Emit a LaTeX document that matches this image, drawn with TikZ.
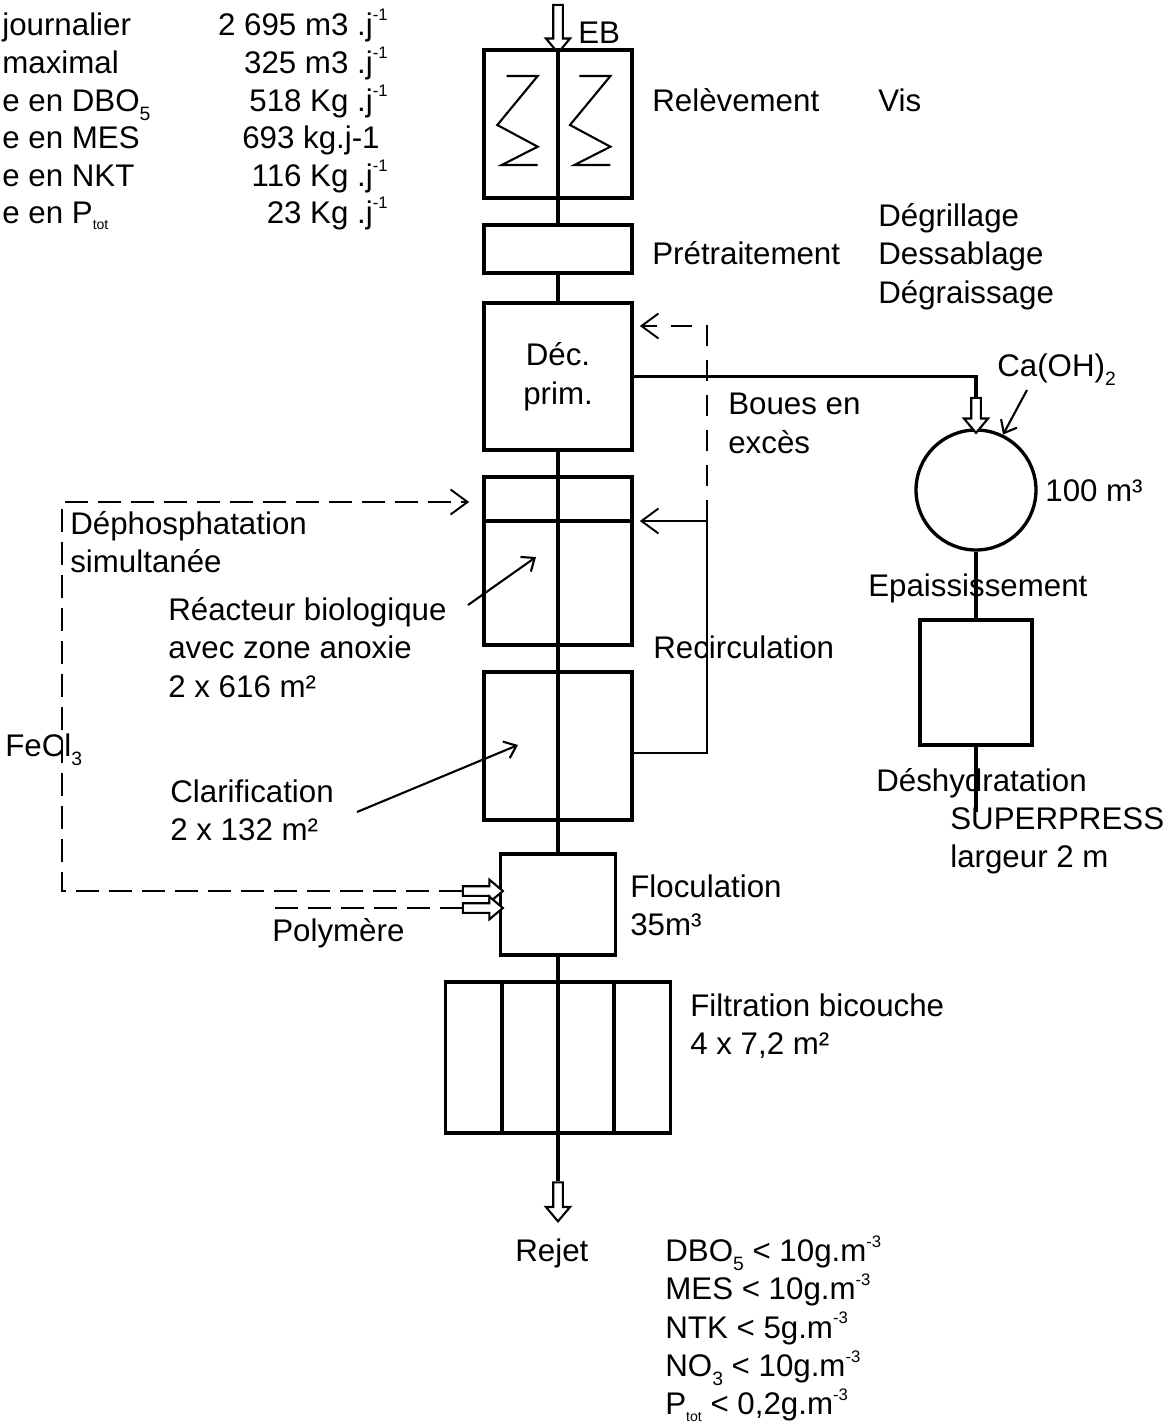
\documentclass[tikz,border=0pt]{standalone}
\usepackage{fontspec}
\setmainfont{Liberation Sans}
\usetikzlibrary{
  arrows.meta,
  positioning,
  shapes.arrows
}
\newcommand{\labfont}{\fontsize{17.8}{21.9}\selectfont}
\newcommand{\lowr}[1]{\raisebox{-0.55ex}{\fontsize{11}{11}\selectfont #1}}
\newcommand{\tot}{\raisebox{-0.4ex}{\fontsize{8}{8}\selectfont tot}}
\newcommand{\upr}[1]{\raisebox{0.85ex}{\fontsize{9.5}{9.5}\selectfont #1}}
\tikzset{
  tank/.style={draw,line width=2.1pt,inner sep=0pt,minimum width=2.96cm},
  wall/.style={line width=2.1pt},
  flow/.style={line width=1.8pt},
  screw/.style={line width=1.2pt},
  dosing/.style={line width=1.2pt,dash pattern=on 0.46cm off 0.2cm},
  bleed/.style={line width=1.2pt,dash pattern=on 0.42cm off 0.28cm},
  pointer/.style={line width=1.2pt,-{Straight Barb[length=2.2mm,width=3.6mm]}},
  inlet/.style={-{Straight Barb[length=3.4mm,width=5mm,line width=1.1pt]}},
  hollow/.style={single arrow,draw,line width=1.2pt,fill=white,
    inner xsep=0pt,inner ysep=0.075cm,minimum width=0.44cm,
    single arrow head extend=0.145cm,single arrow tip angle=80},
  lab/.style={font=\labfont,inner sep=0pt,align=left,anchor=base west},
  block/.style={font=\labfont,inner sep=0pt,align=left,anchor=north west},
  val/.style={font=\labfont,inner sep=0pt,anchor=base east}
}

\begin{document}
\begin{tikzpicture}[x=0.02cm,y=-0.02cm]
  \useasboundingbox (0,0) rectangle (1175,1427);

  % influent characteristics
  \node[lab] (qjl) at (2,35) {journalier};
  \node[val] (qj) at (388,35) {2 695 m3 .j\upr{-1}};
  \node[lab] (qml) at (2,73) {maximal};
  \node[val] (qm) at (388,73) {325 m3 .j\upr{-1}};
  \node[lab] (dbol) at (2,111) {e en DBO\lowr{5}};
  \node[val] (dbo) at (388,111) {518 Kg .j\upr{-1}};
  \node[lab] (mesl) at (2,148) {e en MES};
  \node[val] (mes) at (380,148) {693 kg.j-1};
  \node[lab] (nktl) at (2,186) {e en NKT};
  \node[val] (nkt) at (388,186) {116 Kg .j\upr{-1}};
  \node[lab] (ptl) at (2,223) {e en P\tot};
  \node[val] (pt) at (388,223) {23 Kg .j\upr{-1}};

  % water line
  \node[tank,minimum height=2.96cm] (rel) at (558,124) {};
  \node[tank,minimum height=0.96cm] (pre) at (558,249) {};
  \node[tank,minimum height=2.94cm,font=\labfont,align=center] (dec) at (558,376.5) {Déc.\\prim.};
  \node[tank,minimum height=3.36cm] (bio) at (558,561) {};
  \node[tank,minimum height=2.96cm] (clar) at (558,746) {};
  \node[tank,minimum width=2.3cm,minimum height=2.02cm] (floc) at (558,904.5) {};
  \node[tank,minimum width=4.5cm,minimum height=3.02cm] (filt) at (558,1057.5) {};

  % sludge line
  \node[draw,circle,line width=1.9pt,inner sep=0pt,minimum size=2.4cm] (silo) at (976,490) {};
  \node[tank,minimum width=2.24cm,minimum height=2.5cm] (press) at (976,682.5) {};
  \coordinate (cake) at (976,812);

  % hollow arrows
  \node[hollow,rotate=-90,minimum height=0.96cm] (eb) at (558,26) {};
  \node[hollow,rotate=-90,minimum height=0.7cm] (bin) at (976,412.5) {};
  \node[hollow,rotate=-90,minimum height=0.78cm] (out) at (558,1199) {};
  \node[hollow,minimum height=0.8cm,minimum width=0.4cm,single arrow head extend=0.13cm] (fa1) at (480,891) {};
  \node[hollow,minimum height=0.8cm,minimum width=0.4cm,single arrow head extend=0.13cm] (fa2) at (480,908) {};

  \coordinate (rc) at (707,521);
  \coordinate (rb) at (707,753);
  \coordinate (dc) at (707,326);
  \coordinate (fe) at (62,502);
  \coordinate (poly) at (275,908);
  \coordinate (lime) at (1027,390);
  \coordinate (rstart) at (468,605);
  \coordinate (rtip) at (536,557);
  \coordinate (cstart) at (357,812);
  \coordinate (ctip) at (518,745);

  \draw[flow] (rel.north) -- (rel.south) -- (pre.north);
  \draw[flow] (pre.south) -- (dec.north);
  \draw[flow] (dec.south) -- (bio.north) -- (bio.south) -- (clar.north)
    -- (clar.south) -- (floc.north);
  \draw[flow] (floc.south) -- (filt.north) -- (filt.south) -- (out.west);

  % screws
  \draw[screw] (506.7,76) -- (537.7,76) -- (497.3,125) -- (537.7,146.7)
    -- (501.7,165) -- (537.7,165);
  \draw[screw] (579.4,76) -- (610.4,76) -- (570,125) -- (610.4,146.7)
    -- (574.4,165) -- (610.4,165);

  \draw[wall] (bio.west |- rc) -- (bio.east |- rc);
  \draw[wall] ([xshift=-1.12cm]filt.north) -- ([xshift=-1.12cm]filt.south);
  \draw[wall] ([xshift=1.12cm]filt.north) -- ([xshift=1.12cm]filt.south);

  % recirculation and excess sludge
  \draw[flow,line width=1.6pt,inlet] (clar.east |- rb) -- (rb) -- (rc)
    -- ([xshift=0.12cm]bio.east |- rc);
  \draw[bleed,inlet] (rc) -- (dc) -- ([xshift=0.12cm]dec.east |- dc);
  \draw[flow] (dec.east) -| (bin.west);
  \draw[flow] (silo.south) -- (press.north);
  \draw[flow] (press.south) -- (cake);
  \draw[pointer] (lime) -- (silo.64);

  % reagents
  \draw[dosing,inlet] (fa1.west) -| (fe) -- ([xshift=-0.26cm]bio.west |- fe);
  \draw[dosing] (poly) -- (fa2.west);

  \draw[pointer] (rstart) -- (rtip);
  \draw[pointer] (cstart) -- (ctip);

  % labels
  \node[lab] (ebl) at (578,43) {EB};
  \node[lab] (rell) at (652,111) {Relèvement};
  \node[lab] (visl) at (878,111) {Vis};
  \node[lab] (prel) at (652,264) {Prétraitement};
  \node[block] (prestep) at (878,203) {Dégrillage\\Dessablage\\Dégraissage};
  \node[block] (bouesl) at (728,393) {Boues en\\excès};
  \node[lab] (limel) at (997,376) {Ca(OH)\lowr{2}};
  \node[lab] (silol) at (1045,501) {100 m³};
  \node[lab] (epal) at (868,596) {Epaississement};
  \node[lab] (recl) at (653,658) {Recirculation};
  \node[block] (dephl) at (70,511) {Déphosphatation\\simultanée};
  \node[block] (biol) at (168,597) {Réacteur biologique\\avec zone anoxie\\2 x 616 m²};
  \node[lab] (fel) at (5,756) {FeCl\lowr{3}};
  \node[block] (clarl) at (170,779) {Clarification\\2 x 132 m²};
  \node[block] (flocl) at (630,874) {Floculation\\35m³};
  \node[lab] (polyl) at (272,941) {Polymère};
  \node[block] (filtl) at (690,993) {Filtration bicouche\\4 x 7,2 m²};
  \node[lab] (deshl) at (876,791) {Déshydratation};
  \node[block] (pressl) at (950,807) {SUPERPRESS\\largeur 2 m};
  \node[lab] (rejl) at (515,1261) {Rejet};
  \node[block] (norml) at (665,1235) {DBO\lowr{5} < 10g.m\upr{-3}\\
    MES < 10g.m\upr{-3}\\NTK < 5g.m\upr{-3}\\
    NO\lowr{3} < 10g.m\upr{-3}\\P\tot{} < 0,2g.m\upr{-3}};
\end{tikzpicture}
\end{document}
